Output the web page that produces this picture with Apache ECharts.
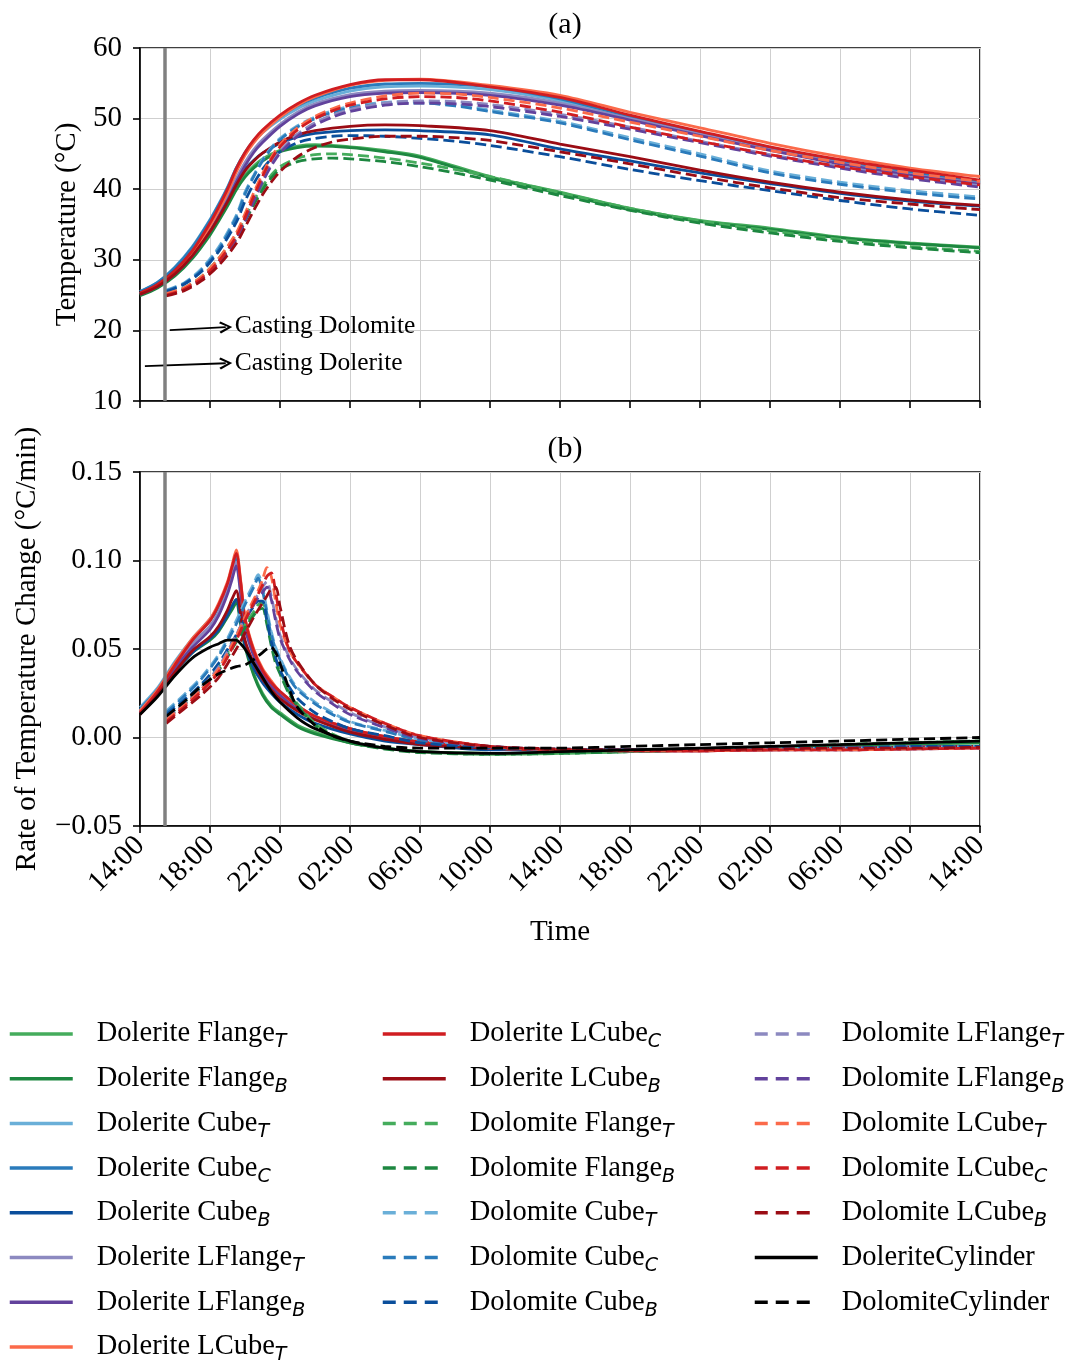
<!DOCTYPE html>
<html><head><meta charset="utf-8">
<script src="https://cdn.jsdelivr.net/npm/echarts@6/dist/echarts.min.js"></script>
<style>html,body{margin:0;padding:0;background:#fff}#c{width:1091px;height:1362px}</style>
</head><body><div id="c"></div><script>
// ---------- time grids (hours after 14:00 on day 1) ----------
const tempHoursDolerite = [0,1,2,3,4,4.5,5,5.5,6,6.5,7,8,9,10,12,14,16,20,24,28,32,36,40,44,48];
const tempHoursDolomite = [1.5,2.5,3.5,4.5,5.5,6,6.5,7,7.5,8,9,10,11,12,14,16,18,20,24,28,32,36,40,44,48];
const rateHoursDolerite = [0,1,2,3,4,4.5,5,5.25,5.5,5.75,6,6.5,7,7.5,8,9,10,12,14,16,20,24,28,32,36,40,44,48];
const rateHoursDolomite = [1.5,2.5,3.5,4.5,5.5,6,6.5,6.75,7,7.25,7.5,7.75,8,8.5,9,10,11,12,14,16,20,24,28,32,36,40,44,48];

// ---------- panel (a): temperature, dolerite (solid) ----------
const tDolFlangeT  = [25.0,26.1,27.9,30.4,33.8,35.8,37.9,40.2,42.0,43.3,44.3,45.5,46.1,46.3,46.0,45.5,44.7,41.8,39.6,37.3,35.6,34.5,33.2,32.4,31.8];
const tDolFlangeB  = [24.9,26.0,27.7,30.2,33.5,35.5,37.6,39.9,41.7,43.0,44.0,45.3,45.9,46.1,45.9,45.3,44.5,41.6,39.4,37.1,35.4,34.3,33.1,32.3,31.7];
const tDolCubeT    = [25.5,26.8,29.0,31.9,35.7,37.9,40.3,43.0,45.1,46.7,48.0,49.9,51.4,52.5,53.9,54.5,54.6,54.1,52.5,50.0,47.7,45.6,43.7,42.2,40.9];
const tDolCubeC    = [25.5,26.8,28.9,31.8,35.6,37.8,40.2,43.0,45.2,46.9,48.2,50.2,51.8,52.9,54.3,54.9,55.0,54.5,52.8,50.3,48.0,45.8,43.9,42.4,41.0];
const tDolCubeB    = [25.3,26.5,28.5,31.2,34.6,36.6,38.7,41.0,42.8,44.1,45.1,46.5,47.4,47.9,48.3,48.4,48.3,47.7,45.7,44.0,42.3,40.8,39.4,38.3,37.6];
const tDolLFlangeT = [25.2,26.3,28.2,30.9,34.5,36.6,38.8,41.5,43.8,45.6,47.0,49.2,50.9,52.1,53.4,53.9,54.0,53.6,52.2,50.0,47.8,45.6,43.7,42.1,40.8];
const tDolLFlangeB = [25.1,26.2,28.0,30.6,34.1,36.2,38.4,41.0,43.3,45.2,46.6,48.9,50.6,51.8,53.1,53.6,53.7,53.3,51.9,49.8,47.6,45.5,43.6,42.0,40.7];
const tDolLCubeT   = [25.2,26.4,28.3,31.0,34.8,37.0,39.5,42.4,44.8,46.6,48.0,50.2,51.9,53.1,54.7,55.4,55.6,54.7,53.3,50.9,48.7,46.5,44.6,43.0,41.8];
const tDolLCubeC   = [25.3,26.5,28.5,31.3,35.2,37.5,40.0,42.9,45.2,47.0,48.4,50.5,52.1,53.3,54.8,55.5,55.5,54.5,53.0,50.5,48.2,46.0,44.2,42.7,41.3];
const tDolLCubeB   = [25.1,26.2,28.0,30.6,34.0,36.0,38.2,40.6,42.6,44.0,45.1,46.7,47.7,48.3,48.9,49.1,49.0,48.3,46.4,44.6,42.7,41.0,39.6,38.5,37.7];

// ---------- panel (a): temperature, dolomite (dashed) ----------
const tDomFlangeT  = [25.2,26.0,27.6,30.2,33.6,36.0,38.4,40.4,42.0,43.2,44.4,44.9,45.0,44.9,44.4,43.7,42.8,41.8,39.5,37.3,35.5,34.1,32.9,31.9,31.2];
const tDomFlangeB  = [25.0,25.8,27.3,29.8,33.0,35.4,37.8,39.9,41.6,42.8,43.9,44.3,44.4,44.3,43.9,43.2,42.3,41.3,39.1,37.0,35.2,33.8,32.6,31.7,31.0];
const tDomCubeT    = [25.7,26.7,28.7,31.8,36.3,39.6,42.0,44.2,45.9,47.2,49.0,50.2,51.1,51.7,52.3,52.4,52.0,51.2,49.6,47.3,45.0,42.6,41.0,39.8,38.9];
const tDomCubeC    = [25.6,26.6,28.5,31.5,36.0,39.3,41.8,44.0,45.7,47.0,48.8,50.0,50.9,51.5,52.1,52.2,51.8,51.0,49.4,47.0,44.7,42.3,40.7,39.5,38.6];
const tDomCubeB    = [25.5,26.5,28.3,31.2,35.3,38.3,40.8,42.8,44.3,45.3,46.6,47.2,47.5,47.6,47.5,47.2,46.8,46.2,44.6,42.8,41.2,39.8,38.4,37.2,36.3];
const tDomLFlangeT = [25.1,25.9,27.4,29.9,33.2,35.8,38.6,41.3,43.6,45.4,47.8,49.4,50.5,51.3,52.2,52.5,52.4,52.0,50.6,48.8,46.8,44.9,43.2,41.7,40.5];
const tDomLFlangeB = [25.0,25.8,27.2,29.6,32.9,35.5,38.3,41.0,43.3,45.1,47.5,49.1,50.2,51.0,51.9,52.2,52.1,51.7,50.3,48.5,46.6,44.7,43.0,41.5,40.3];
const tDomLCubeT   = [25.2,26.0,27.6,30.2,33.8,36.5,39.5,42.2,44.5,46.3,48.7,50.3,51.4,52.2,53.2,53.6,53.5,53.0,51.5,49.5,47.5,45.5,43.8,42.3,41.1];
const tDomLCubeC   = [25.0,25.8,27.3,29.8,33.3,36.0,39.0,41.8,44.2,46.0,48.4,50.0,51.1,51.9,52.8,53.1,53.0,52.5,50.9,48.8,46.8,44.9,43.2,41.8,40.6];
const tDomLCubeB   = [24.9,25.6,27.0,29.2,32.3,34.6,37.0,39.2,41.0,42.5,44.6,45.9,46.7,47.1,47.5,47.5,47.3,46.9,45.3,43.6,41.8,40.2,38.8,37.9,37.1];

// ---------- panel (b): rate, dolerite (solid) ----------
const rDolFlangeT  = [0.015,0.025,0.038,0.049,0.056,0.061,0.069,0.074,0.078,0.066,0.053,0.036,0.025,0.018,0.014,0.007,0.003,-0.003,-0.006,-0.008,-0.009,-0.0085,-0.008,-0.007,-0.006,-0.0045,-0.0035,-0.003];
const rDolFlangeB  = [0.014,0.024,0.037,0.048,0.055,0.060,0.068,0.072,0.076,0.064,0.051,0.035,0.024,0.017,0.013,0.006,0.002,-0.003,-0.006,-0.008,-0.009,-0.0085,-0.008,-0.007,-0.006,-0.0045,-0.0035,-0.003];
const rDolCubeT    = [0.017,0.028,0.043,0.056,0.067,0.075,0.087,0.095,0.104,0.087,0.067,0.049,0.038,0.031,0.026,0.018,0.012,0.005,0.0005,-0.0025,-0.006,-0.007,-0.007,-0.007,-0.0065,-0.006,-0.0055,-0.005];
const rDolCubeC    = [0.016,0.027,0.042,0.055,0.066,0.074,0.086,0.094,0.102,0.085,0.066,0.048,0.037,0.030,0.025,0.017,0.011,0.0045,0.0,-0.003,-0.0065,-0.007,-0.0072,-0.007,-0.0065,-0.006,-0.0055,-0.005];
const rDolCubeB    = [0.014,0.024,0.037,0.048,0.056,0.061,0.069,0.074,0.078,0.066,0.052,0.039,0.031,0.025,0.020,0.013,0.008,0.002,-0.002,-0.004,-0.007,-0.007,-0.007,-0.007,-0.0065,-0.006,-0.0055,-0.005];
const rDolLFlangeT = [0.015,0.026,0.040,0.053,0.063,0.071,0.083,0.091,0.099,0.083,0.064,0.047,0.037,0.030,0.025,0.017,0.011,0.0045,0.0,-0.003,-0.006,-0.007,-0.007,-0.007,-0.0065,-0.006,-0.0055,-0.005];
const rDolLFlangeB = [0.014,0.025,0.039,0.051,0.061,0.069,0.081,0.089,0.097,0.081,0.062,0.046,0.036,0.029,0.024,0.016,0.011,0.004,0.0,-0.003,-0.006,-0.007,-0.007,-0.007,-0.0065,-0.006,-0.0055,-0.005];
const rDolLCubeT   = [0.015,0.027,0.042,0.056,0.067,0.076,0.088,0.097,0.106,0.089,0.068,0.050,0.039,0.032,0.026,0.018,0.012,0.005,0.0005,-0.0025,-0.006,-0.007,-0.0075,-0.0075,-0.007,-0.0065,-0.006,-0.0055];
const rDolLCubeC   = [0.014,0.026,0.041,0.055,0.066,0.075,0.087,0.096,0.104,0.088,0.067,0.049,0.038,0.031,0.026,0.018,0.012,0.005,0.0005,-0.0025,-0.006,-0.007,-0.0075,-0.0075,-0.007,-0.0065,-0.006,-0.0055];
const rDolLCubeB   = [0.013,0.024,0.037,0.049,0.057,0.063,0.072,0.078,0.083,0.070,0.055,0.042,0.033,0.027,0.022,0.015,0.010,0.003,-0.001,-0.004,-0.006,-0.007,-0.007,-0.007,-0.0065,-0.006,-0.0055,-0.005];
const rDolCylinder = [0.013,0.023,0.035,0.045,0.051,0.053,0.055,0.055,0.055,0.053,0.050,0.042,0.034,0.026,0.020,0.011,0.005,-0.002,-0.006,-0.008,-0.009,-0.008,-0.007,-0.006,-0.005,-0.004,-0.003,-0.002];

// ---------- panel (b): rate, dolomite (dashed) ----------
const rDomFlangeT  = [0.012,0.020,0.029,0.040,0.056,0.064,0.071,0.075,0.076,0.066,0.054,0.044,0.038,0.026,0.019,0.008,0.002,-0.002,-0.006,-0.008,-0.0095,-0.009,-0.008,-0.007,-0.006,-0.004,-0.003,-0.002];
const rDomFlangeB  = [0.011,0.019,0.028,0.038,0.054,0.062,0.069,0.072,0.073,0.064,0.052,0.042,0.036,0.025,0.018,0.007,0.001,-0.003,-0.0065,-0.0085,-0.0095,-0.009,-0.008,-0.007,-0.006,-0.0045,-0.003,-0.002];
const rDomCubeT    = [0.015,0.024,0.034,0.047,0.066,0.077,0.087,0.092,0.085,0.072,0.060,0.051,0.045,0.035,0.028,0.020,0.014,0.009,0.004,-0.001,-0.005,-0.0065,-0.007,-0.007,-0.0065,-0.006,-0.0055,-0.005];
const rDomCubeC    = [0.014,0.023,0.033,0.046,0.064,0.075,0.085,0.090,0.083,0.070,0.058,0.050,0.044,0.034,0.027,0.019,0.013,0.0085,0.0035,-0.0015,-0.0055,-0.0065,-0.007,-0.007,-0.0065,-0.006,-0.0055,-0.005];
const rDomCubeB    = [0.013,0.021,0.030,0.042,0.058,0.067,0.074,0.077,0.077,0.066,0.054,0.045,0.038,0.029,0.022,0.014,0.009,0.005,0.001,-0.003,-0.006,-0.007,-0.007,-0.007,-0.006,-0.006,-0.005,-0.005];
const rDomLFlangeT = [0.011,0.019,0.028,0.040,0.058,0.068,0.077,0.081,0.085,0.088,0.080,0.068,0.058,0.046,0.038,0.027,0.020,0.014,0.006,0.000,-0.005,-0.007,-0.0075,-0.0075,-0.007,-0.007,-0.0065,-0.006];
const rDomLFlangeB = [0.010,0.018,0.027,0.038,0.056,0.066,0.075,0.079,0.082,0.085,0.078,0.066,0.056,0.045,0.037,0.026,0.019,0.013,0.0055,-0.0005,-0.005,-0.007,-0.0075,-0.0075,-0.007,-0.007,-0.0065,-0.006];
const rDomLCubeT   = [0.010,0.018,0.027,0.039,0.057,0.068,0.078,0.083,0.089,0.096,0.091,0.077,0.064,0.050,0.042,0.030,0.023,0.017,0.008,0.001,-0.005,-0.007,-0.0075,-0.0075,-0.007,-0.007,-0.0065,-0.006];
const rDomLCubeC   = [0.009,0.017,0.026,0.037,0.055,0.066,0.076,0.081,0.086,0.091,0.093,0.082,0.068,0.050,0.042,0.030,0.023,0.017,0.008,0.001,-0.005,-0.007,-0.0075,-0.0075,-0.007,-0.007,-0.0065,-0.006];
const rDomLCubeB   = [0.008,0.016,0.024,0.034,0.050,0.059,0.068,0.072,0.076,0.080,0.084,0.085,0.074,0.053,0.043,0.030,0.022,0.016,0.007,0.000,-0.005,-0.0065,-0.007,-0.007,-0.0065,-0.006,-0.006,-0.0055];
const rDomCylinder = [0.012,0.020,0.029,0.036,0.040,0.041,0.044,0.046,0.048,0.050,0.051,0.048,0.042,0.028,0.017,0.007,0.001,-0.002,-0.005,-0.006,-0.006,-0.006,-0.005,-0.004,-0.003,-0.002,-0.001,0.000];

// ---------- tick labels ----------
const tempTicks = [10,20,30,40,50,60];
const rateTicks = [-0.05,0.00,0.05,0.10,0.15];
const clockStartHour = 14;

// ---------- series definitions ----------
const C = {
  FlangeT:'#45ac5c', FlangeB:'#1d8740', CubeT:'#6aafd8', CubeC:'#2a7bbb', CubeB:'#0a4e9b',
  LFlangeT:'#8c89c0', LFlangeB:'#62429c', LCubeT:'#fb6a4a', LCubeC:'#d01d21', LCubeB:'#9b0c14', Cyl:'#000000'
};
const defs = [
  ['Dolerite Flange_T', C.FlangeT, false, tDolFlangeT, rDolFlangeT],
  ['Dolerite Flange_B', C.FlangeB, false, tDolFlangeB, rDolFlangeB],
  ['Dolerite Cube_T', C.CubeT, false, tDolCubeT, rDolCubeT],
  ['Dolerite Cube_C', C.CubeC, false, tDolCubeC, rDolCubeC],
  ['Dolerite Cube_B', C.CubeB, false, tDolCubeB, rDolCubeB],
  ['Dolerite LFlange_T', C.LFlangeT, false, tDolLFlangeT, rDolLFlangeT],
  ['Dolerite LFlange_B', C.LFlangeB, false, tDolLFlangeB, rDolLFlangeB],
  ['Dolerite LCube_T', C.LCubeT, false, tDolLCubeT, rDolLCubeT],
  ['Dolerite LCube_C', C.LCubeC, false, tDolLCubeC, rDolLCubeC],
  ['Dolerite LCube_B', C.LCubeB, false, tDolLCubeB, rDolLCubeB],
  ['Dolomite Flange_T', C.FlangeT, true, tDomFlangeT, rDomFlangeT],
  ['Dolomite Flange_B', C.FlangeB, true, tDomFlangeB, rDomFlangeB],
  ['Dolomite Cube_T', C.CubeT, true, tDomCubeT, rDomCubeT],
  ['Dolomite Cube_C', C.CubeC, true, tDomCubeC, rDomCubeC],
  ['Dolomite Cube_B', C.CubeB, true, tDomCubeB, rDomCubeB],
  ['Dolomite LFlange_T', C.LFlangeT, true, tDomLFlangeT, rDomLFlangeT],
  ['Dolomite LFlange_B', C.LFlangeB, true, tDomLFlangeB, rDomLFlangeB],
  ['Dolomite LCube_T', C.LCubeT, true, tDomLCubeT, rDomLCubeT],
  ['Dolomite LCube_C', C.LCubeC, true, tDomLCubeC, rDomLCubeC],
  ['Dolomite LCube_B', C.LCubeB, true, tDomLCubeB, rDomLCubeB],
  ['DoleriteCylinder', C.Cyl, false, null, rDolCylinder],
  ['DolomiteCylinder', C.Cyl, true, null, rDomCylinder]
];

const SERIF = 'Liberation Serif';
function mkLine(name, xs, ys, color, dashed, idx) {
  return {
    name, type:'line', xAxisIndex:idx, yAxisIndex:idx,
    data: xs.map((x,i)=>[x, ys[i]]),
    symbol:'none', showSymbol:false, smooth:0.3,
    lineStyle:{color, width:2.8, type: dashed ? [11,5] : 'solid'},
    itemStyle:{color}, emphasis:{disabled:true}, silent:true
  };
}
const series = [];
defs.forEach(d => {
  const [name, color, dashed, tv, rv] = d;
  if (tv) series.push(mkLine(name, dashed ? tempHoursDolomite : tempHoursDolerite, tv, color, dashed, 0));
  series.push(mkLine(name, dashed ? rateHoursDolomite : rateHoursDolerite, rv, color, dashed, 1));
});

// annotations: casting times and arrows
const arrowSym = 'path://M5,0 L10,8 L8.6,9 L5,3 L1.4,9 L0,8 Z';
series.push({
  type:'line', xAxisIndex:0, yAxisIndex:0, data:[], silent:true,
  markLine:{
    silent:true, animation:false, symbol:['none', arrowSym], symbolSize:[12,13],
    lineStyle:{color:'#000', width:1.8, type:'solid'},
    label:{show:true, position:'end', distance:9, color:'#000', fontFamily:SERIF, fontSize:25.5, padding:[0,0,10,0]},
    data:[
      [{coord:[1.7,20.05]},{coord:[4.9,20.45], label:{formatter:'Casting Dolomite'}}],
      [{coord:[0.28,14.95]},{coord:[4.9,15.35], label:{formatter:'Casting Dolerite'}}]
    ]
  }
});
[0,1].forEach(i => series.push({
  type:'line', xAxisIndex:i, yAxisIndex:i, data:[], silent:true,
  markLine:{silent:true, animation:false, symbol:['none','none'],
    lineStyle:{color:'#808080', width:3.5, type:'solid'}, label:{show:false},
    data:[{xAxis:1.43}]}
}));

function clock(v){ const h = (clockStartHour + Math.round(v)) % 24; return (h<10?'0':'')+h+':00'; }

const axisCommon = {
  axisLine:{show:true, onZero:false, lineStyle:{color:'#000', width:1.6}},
  axisTick:{show:true, inside:false, length:7, lineStyle:{color:'#000', width:1.6}},
  splitLine:{show:true, lineStyle:{color:'#cfcfcf', width:1}},
};
const labelFont = {color:'#000', fontFamily:SERIF, fontSize:29};

const xAxes = [0,1].map(i => Object.assign({}, axisCommon, {
  type:'value', gridIndex:i, min:0, max:48, interval:4,
  axisLabel: i===0 ? {show:false} : Object.assign({show:true, rotate:45, margin:15, formatter:clock}, labelFont),
  name: i===1 ? 'Time' : '', nameLocation:'middle', nameGap:92,
  nameTextStyle:{color:'#000', fontFamily:SERIF, fontSize:29}
}));
const yAxes = [
  Object.assign({}, axisCommon, {type:'value', gridIndex:0, min:tempTicks[0], max:tempTicks[tempTicks.length-1], interval:10,
    axisLabel:Object.assign({margin:18, formatter:v=>String(v)}, labelFont),
    name:'Temperature (°C)', nameLocation:'middle', nameGap:58,
    nameTextStyle:{color:'#000', fontFamily:SERIF, fontSize:29}}),
  Object.assign({}, axisCommon, {type:'value', gridIndex:1, min:rateTicks[0], max:rateTicks[rateTicks.length-1], interval:0.05,
    axisLabel:Object.assign({margin:18, formatter:v=>(v<-1e-9?'\u2212':'')+Math.abs(v).toFixed(2)}, labelFont),
    name:'Rate of Temperature Change (°C/min)', nameLocation:'middle', nameGap:98,
    nameTextStyle:{color:'#000', fontFamily:SERIF, fontSize:29}})
];

const legendCols = [
  defs.slice(0,8),
  defs.slice(8,15),
  defs.slice(15,22)
];
const legendLefts = [3, 376, 748];
const legends = legendCols.map((items, i) => ({
  orient:'vertical', left:legendLefts[i], top:1011, height:400, itemWidth:63, itemHeight:14, itemGap:8.7,
  data:items.map(d => ({name:d[0], lineStyle:{width:3.5, type: d[2] ? [13,8] : 'solid'}})), selectedMode:false,
  lineStyle:{width:3.5}, itemStyle:{opacity:0, borderWidth:0},
  formatter: n => n.replace(/_([TCB])$/, '{s|$1}'),
  textStyle:{color:'#000', fontFamily:SERIF, fontSize:28.5, lineHeight:36, padding:[0,0,0,19],
    rich:{s:{color:'#000', fontFamily:'DejaVu Sans', fontStyle:'italic', fontSize:19, lineHeight:20, verticalAlign:'bottom'}}}
}));

const option = {
  animation:false, backgroundColor:'#ffffff',
  title:[
    {text:'(a)', left:560, top:5, textAlign:'center', textStyle:{color:'#000', fontFamily:SERIF, fontSize:30, fontWeight:'normal'}},
    {text:'(b)', left:560, top:429, textAlign:'center', textStyle:{color:'#000', fontFamily:SERIF, fontSize:30, fontWeight:'normal'}}
  ],
  grid:[
    {left:140, top:48, width:840, height:353, show:true, borderColor:'#000', borderWidth:1.6, backgroundColor:'rgba(0,0,0,0)', containLabel:false, outerBoundsMode:'none'},
    {left:140, top:472, width:840, height:354, show:true, borderColor:'#000', borderWidth:1.6, backgroundColor:'rgba(0,0,0,0)', containLabel:false, outerBoundsMode:'none'}
  ],
  xAxis:xAxes, yAxis:yAxes, legend:legends, series
};
const chart = echarts.init(document.getElementById('c'), null, {renderer:'canvas'});
chart.setOption(option);
</script></body></html>
